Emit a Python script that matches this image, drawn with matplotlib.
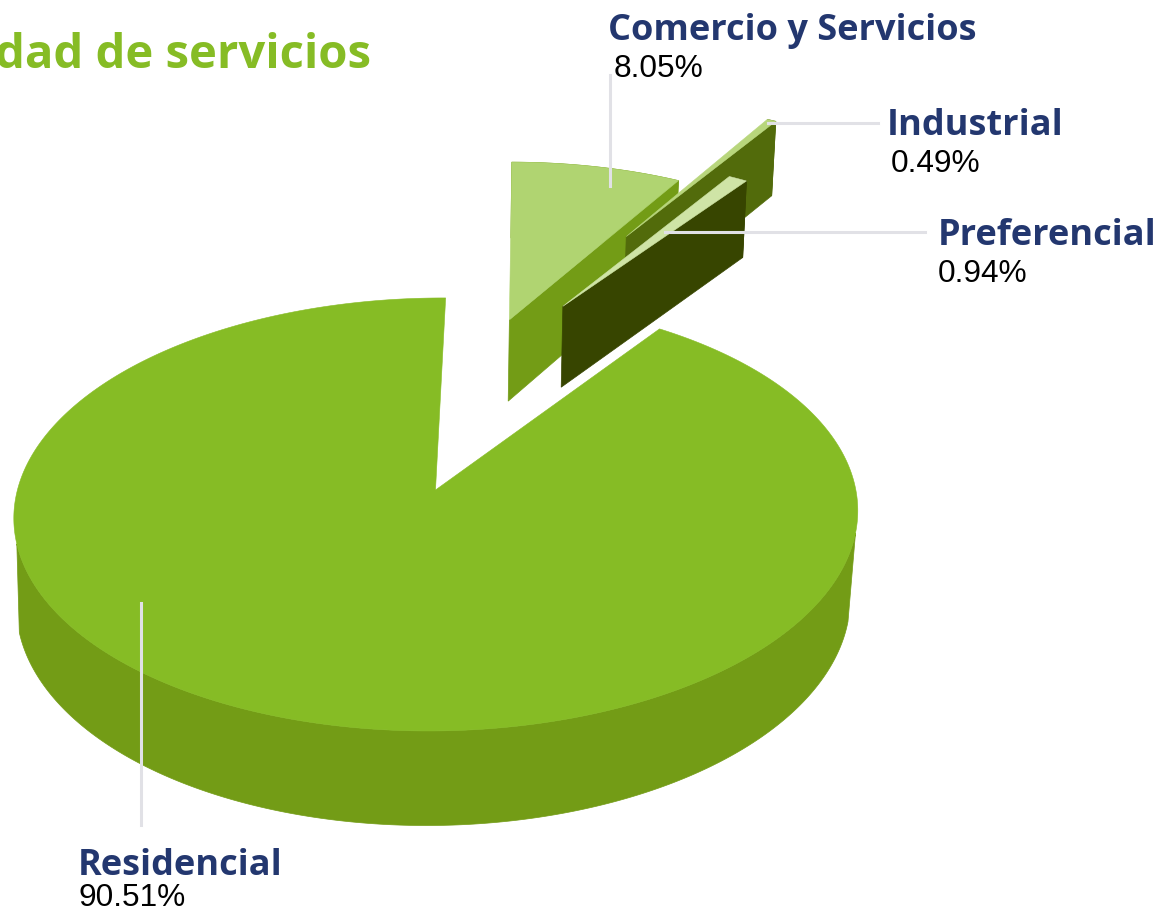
import numpy as np
import matplotlib
matplotlib.use("Agg")
import matplotlib.pyplot as plt

# datos
categorias = ["Comercio y Servicios", "Industrial", "Preferencial", "Residencial"]
valores = [8.05, 0.49, 0.94, 90.51]
etiquetas = ["8.05%", "0.49%", "0.94%", "90.51%"]

# colores de cada rebanada (cara superior, pared)
color_top = ["#B0D471", "#B8D67C", "#CFE4A6", "#86BC25"]
color_wall = ["#739C16", "#526B0B", "#374500", "#739C16"]
color_texto = "#23376F"
color_titulo = "#86BC25"
color_guia = "#E1E1E6"

# desplazamiento y radio de cada rebanada sobre el plano del pastel
explode = [(0.199, 0.87), (0.533, 1.355), (0.342, 0.943), (0.0, 0.0)]
radio = [0.98, 0.90, 0.94, 1.0]
pared_corte = [True, True, True, False]

# parametros de la proyeccion
CX, CY = 435.5, 490
R = 419.3
S = 213.7
K = 0.113
ROLL = np.radians(0.7)
ALTO = 87
K_ALTO = 0.08
ENCOGE = 0.988
INICIO = 88.1


def proyecta(x, y):
    """Pasa puntos del plano del pastel a pixeles (cara superior)"""
    w = 1 + K * y
    px = R * x / w
    py = S * y / w
    qx = px * np.cos(ROLL) - py * np.sin(ROLL)
    qy = px * np.sin(ROLL) + py * np.cos(ROLL)
    return CX + qx, CY - qy


def proyecta_base(x, y):
    """Igual que proyecta pero para la cara inferior"""
    sx, sy = proyecta(x, y)
    return CX + (sx - CX) * ENCOGE - 2.5 * np.clip(1 - y, 0, 1), sy + ALTO / (1 + K_ALTO * y)


def pared(ax, x, y, color):
    """Dibuja la pared vertical bajo una linea del plano"""
    tx, ty = proyecta(x, y)
    bx, by = proyecta_base(x, y)
    ax.fill(np.r_[tx, bx[::-1]], np.r_[ty, by[::-1]], color=color, lw=0.5, zorder=1)


def rebanada(ax, a0, a1, off, r, top, wall, corte):
    t = np.radians(np.linspace(a0, a1, max(int(abs(a1 - a0) * 2), 8)))
    arc_x = off[0] + r * np.cos(t)
    arc_y = off[1] + r * np.sin(t)
    if corte:
        # rebanadas sueltas: arco y borde recto visible
        pared(ax, arc_x, arc_y, wall)
        pared(ax, np.array([off[0], arc_x[-1]]), np.array([off[1], arc_y[-1]]), wall)
    else:
        # solo la parte de enfrente, lo demas queda tapado
        frente = arc_y < -0.22
        pared(ax, arc_x[frente], arc_y[frente], wall)
    px, py = proyecta(np.r_[off[0], arc_x], np.r_[off[1], arc_y])
    ax.fill(px, py, color=top, lw=0.4, zorder=1)


fig = plt.figure(figsize=(11.68, 9.11), dpi=100)
ax = fig.add_axes([0, 0, 1, 1])
ax.set_xlim(0, 1168)
ax.set_ylim(911, 0)
ax.axis("off")

total = sum(valores)
a = INICIO
for i in range(len(valores)):
    a2 = a - valores[i] / total * 360
    rebanada(ax, a, a2, explode[i], radio[i], color_top[i], color_wall[i], pared_corte[i])
    a = a2

# lineas guia
ax.plot([610, 610], [75, 186], color=color_guia, lw=2.2, zorder=3)
ax.plot([768, 878], [123, 123], color=color_guia, lw=2.2, zorder=3)
ax.plot([665, 925], [232, 232], color=color_guia, lw=2.2, zorder=3)
ax.plot([141, 141], [603, 825], color=color_guia, lw=2.2, zorder=3)

# textos
fuente = "Open Sans"
ax.text(-5, 68, "dad de servicios", color=color_titulo, fontsize=34, fontweight="bold",
        family=fuente, clip_on=True)
pos_nombre = [(608, 40), (887, 135), (938, 245), (78, 875)]
pos_valor = [(614, 77), (891, 172), (938, 282), (78, 906)]
for i in range(len(categorias)):
    ax.text(pos_nombre[i][0], pos_nombre[i][1], categorias[i], color=color_texto,
            fontsize=26, fontweight="bold", family=fuente, zorder=4)
    ax.text(pos_valor[i][0], pos_valor[i][1], etiquetas[i], color="black",
            fontsize=22.8, family="Liberation Sans", zorder=4)

fig.savefig("out.png", dpi=100)
